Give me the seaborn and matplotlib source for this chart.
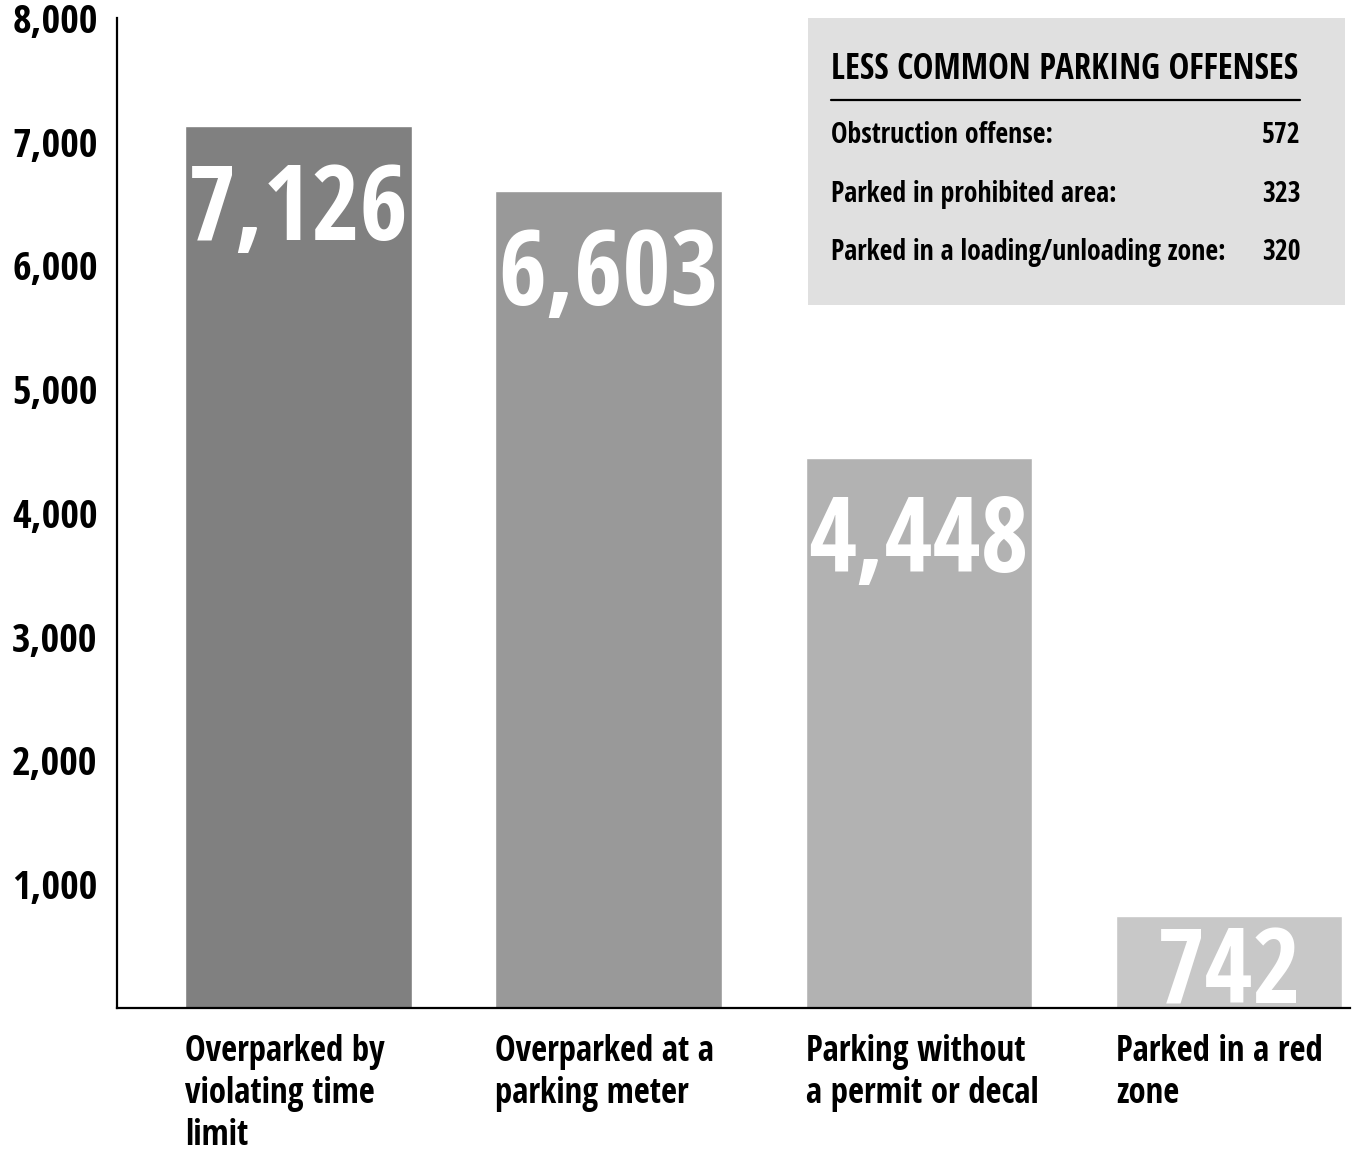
import matplotlib
matplotlib.use("Agg")
import matplotlib.pyplot as plt
import seaborn as sns
import pandas as pd
from matplotlib.ticker import FuncFormatter

# ---------------------------------------------------------------------------
# Data
# ---------------------------------------------------------------------------
categories = [
    "Overparked by\nviolating time\nlimit",
    "Overparked at a\nparking meter",
    "Parking without\na permit or decal",
    "Parked in a red\nzone",
]
counts = [7126, 6603, 4448, 742]
bar_colors = ["#808080", "#999999", "#b2b2b2", "#c8c8c8"]

minor_labels = [
    "Obstruction offense:",
    "Parked in prohibited area:",
    "Parked in a loading/unloading zone:",
]
minor_counts = [572, 323, 320]
box_title = "LESS COMMON PARKING OFFENSES"

yticks = [1000, 2000, 3000, 4000, 5000, 6000, 7000, 8000]

# ---------------------------------------------------------------------------
# Style
# ---------------------------------------------------------------------------
sns.set_theme(style="white")
plt.rcParams["font.family"] = ["Open Sans Condensed", "DejaVu Sans"]
plt.rcParams["font.weight"] = "bold"

df = pd.DataFrame({"cat": categories, "n": counts})

fig = plt.figure(figsize=(13.61, 11.53), dpi=100)
ax = fig.add_axes([0.086, 0.1258, 0.906, 0.8586])

sns.barplot(data=df, x="cat", y="n", hue="cat", palette=bar_colors,
            width=0.73, legend=False, saturation=1, ax=ax)

ax.set_xlim(-0.584, 3.39)
ax.set_ylim(0, 8000)
ax.set_yticks(yticks)
ax.yaxis.set_major_formatter(FuncFormatter(lambda v, p: f"{int(v):,}"))
ax.tick_params(axis="y", length=0, pad=14, labelsize=29, labelcolor="black")
ax.set_xticks([])
ax.set_xlabel("")
ax.set_ylabel("")

for s in ["top", "right"]:
    ax.spines[s].set_visible(False)
for s in ["left", "bottom"]:
    ax.spines[s].set_color("black")
    ax.spines[s].set_linewidth(1.6)

# value labels inside bars
for i, v in enumerate(counts):
    if v > 1500:
        ax.annotate(f"{v:,}", xy=(i, v), xytext=(0, -35),
                    textcoords="offset pixels", ha="center", va="top",
                    fontsize=75, color="white", fontweight="bold")
    else:
        ax.annotate(f"{v:,}", xy=(i, 0), xytext=(0, 4),
                    textcoords="offset pixels", ha="center", va="baseline",
                    fontsize=75, color="white", fontweight="bold")

# category labels under bars, left aligned on bar edge
trans = ax.get_xaxis_transform()
for i, c in enumerate(categories):
    ax.text(i - 0.365, -0.026, c, transform=trans, ha="left", va="top",
            fontsize=25, linespacing=1.22, color="black")

# inset box with less common offenses
box = fig.add_axes([0.594, 0.7355, 0.3946, 0.249])
box.set_facecolor("#e0e0e0")
box.set_xlim(0, 537)
box.set_ylim(287, 0)
box.set_xticks([])
box.set_yticks([])
for s in box.spines.values():
    s.set_visible(False)
box.text(23, 52, box_title, ha="left", va="center", fontsize=25,
         color="black")
box.plot([23, 492], [82, 82], color="black", lw=1.6)
row_y = [118, 177, 235]
for lab, n, y in zip(minor_labels, minor_counts, row_y):
    box.text(23, y, lab, ha="left", va="center", fontsize=20, color="black")
    box.text(492, y, f"{n}", ha="right", va="center", fontsize=20,
             color="black")

fig.savefig("out.png", dpi=100)
